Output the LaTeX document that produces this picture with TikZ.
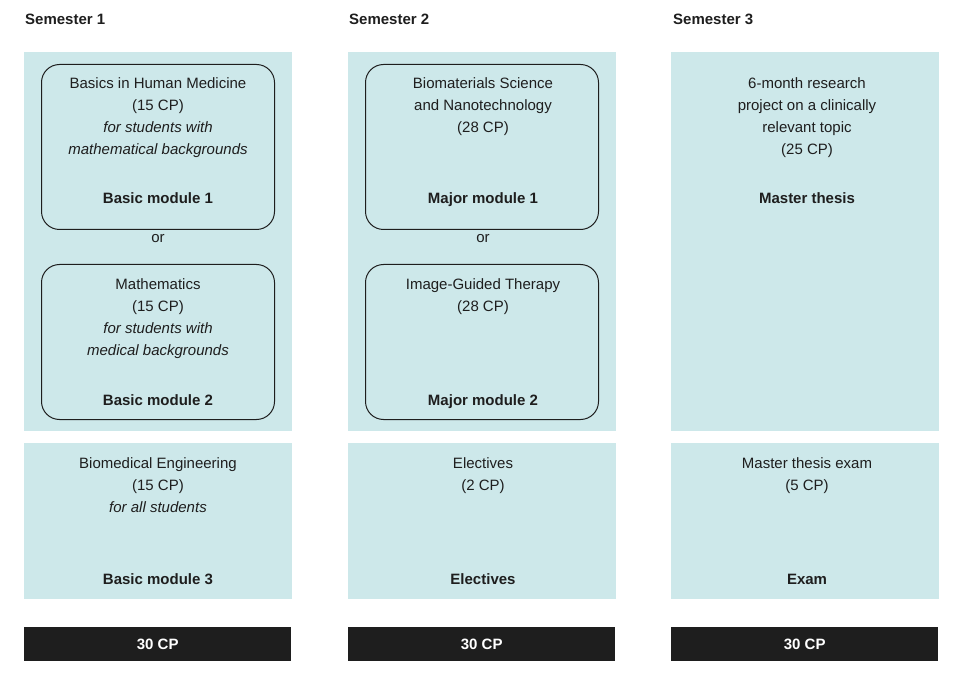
\documentclass[tikz,border=0pt]{standalone}
\usepackage{fontspec}
\setmainfont{Liberation Sans}
\definecolor{pale}{HTML}{CDE8EA}
\definecolor{dark}{HTML}{1E1E1E}
\begin{document}
\begin{tikzpicture}[x=1pt,y=-1pt,
  panel/.style={fill=pale,draw=none,anchor=north west,inner sep=0pt},
  modbox/.style={draw=dark,line width=1pt,rounded corners=18pt,anchor=north west,inner sep=0pt,minimum width=233pt},
  txt/.style={align=center,anchor=north,inner sep=0pt,font=\fontsize{15}{22}\selectfont,text=dark},
  lbl/.style={anchor=base,inner sep=0pt,font=\fontsize{15}{18}\selectfont\bfseries,text=dark},
  head/.style={anchor=base west,inner sep=0pt,font=\fontsize{15}{18}\selectfont\bfseries,text=dark},
  cpbar/.style={fill=dark,anchor=north west,inner sep=0pt,minimum width=267pt,minimum height=34pt,text=white,font=\fontsize{15}{18}\selectfont\bfseries}]
\useasboundingbox (0,0) rectangle (960,684);
% headings
\node[head] (h1) at (25,25) {Semester 1};
\node[head] (h2) at (349,25) {Semester 2};
\node[head] (h3) at (673,25) {Semester 3};
% panels
\foreach \x/\n in {24/a,348/b,671/c}{
  \node[panel,minimum width=268pt,minimum height=379pt] (top\n) at (\x,52) {};
  \node[panel,minimum width=268pt,minimum height=156pt] (bot\n) at (\x,443) {};
  \node[cpbar] (cp\n) at (\x,627) {30 CP};
}
% module boxes
\node[modbox,minimum height=165pt] (m1) at (41,64) {};
\node[modbox,minimum height=155pt] (m2) at (41,264) {};
\node[modbox,minimum height=165pt] (m3) at (365,64) {};
\node[modbox,minimum height=155pt] (m4) at (365,264) {};
% semester 1
\node[txt] (t1) at (158,77) {Basics in Human Medicine\\(15 CP)\\\textit{for students with}\\\textit{mathematical backgrounds}};
\node[lbl] (l1) at (158,204) {Basic module 1};
\node[txt] (or1) at (158,234) {or};
\node[txt] (t2) at (158,278) {Mathematics\\(15 CP)\\\textit{for students with}\\\textit{medical backgrounds}};
\node[lbl] (l2) at (158,405) {Basic module 2};
\node[txt] (t3) at (158,457) {Biomedical Engineering\\(15 CP)\\\textit{for all students}};
\node[lbl] (l3) at (158,584) {Basic module 3};
% semester 2
\node[txt] (t4) at (483,77) {Biomaterials Science\\and Nanotechnology\\(28 CP)};
\node[lbl] (l4) at (483,204) {Major module 1};
\node[txt] (or2) at (483,234) {or};
\node[txt] (t5) at (483,278) {Image-Guided Therapy\\(28 CP)};
\node[lbl] (l5) at (483,405) {Major module 2};
\node[txt] (t6) at (483,457) {Electives\\(2 CP)};
\node[lbl] (l6) at (483,584) {Electives};
% semester 3
\node[txt] (t7) at (807,77) {6-month research\\project on a clinically\\relevant topic\\(25 CP)};
\node[lbl] (l7) at (807,204) {Master thesis};
\node[txt] (t8) at (807,457) {Master thesis exam\\(5 CP)};
\node[lbl] (l8) at (807,584) {Exam};
\end{tikzpicture}
\end{document}
